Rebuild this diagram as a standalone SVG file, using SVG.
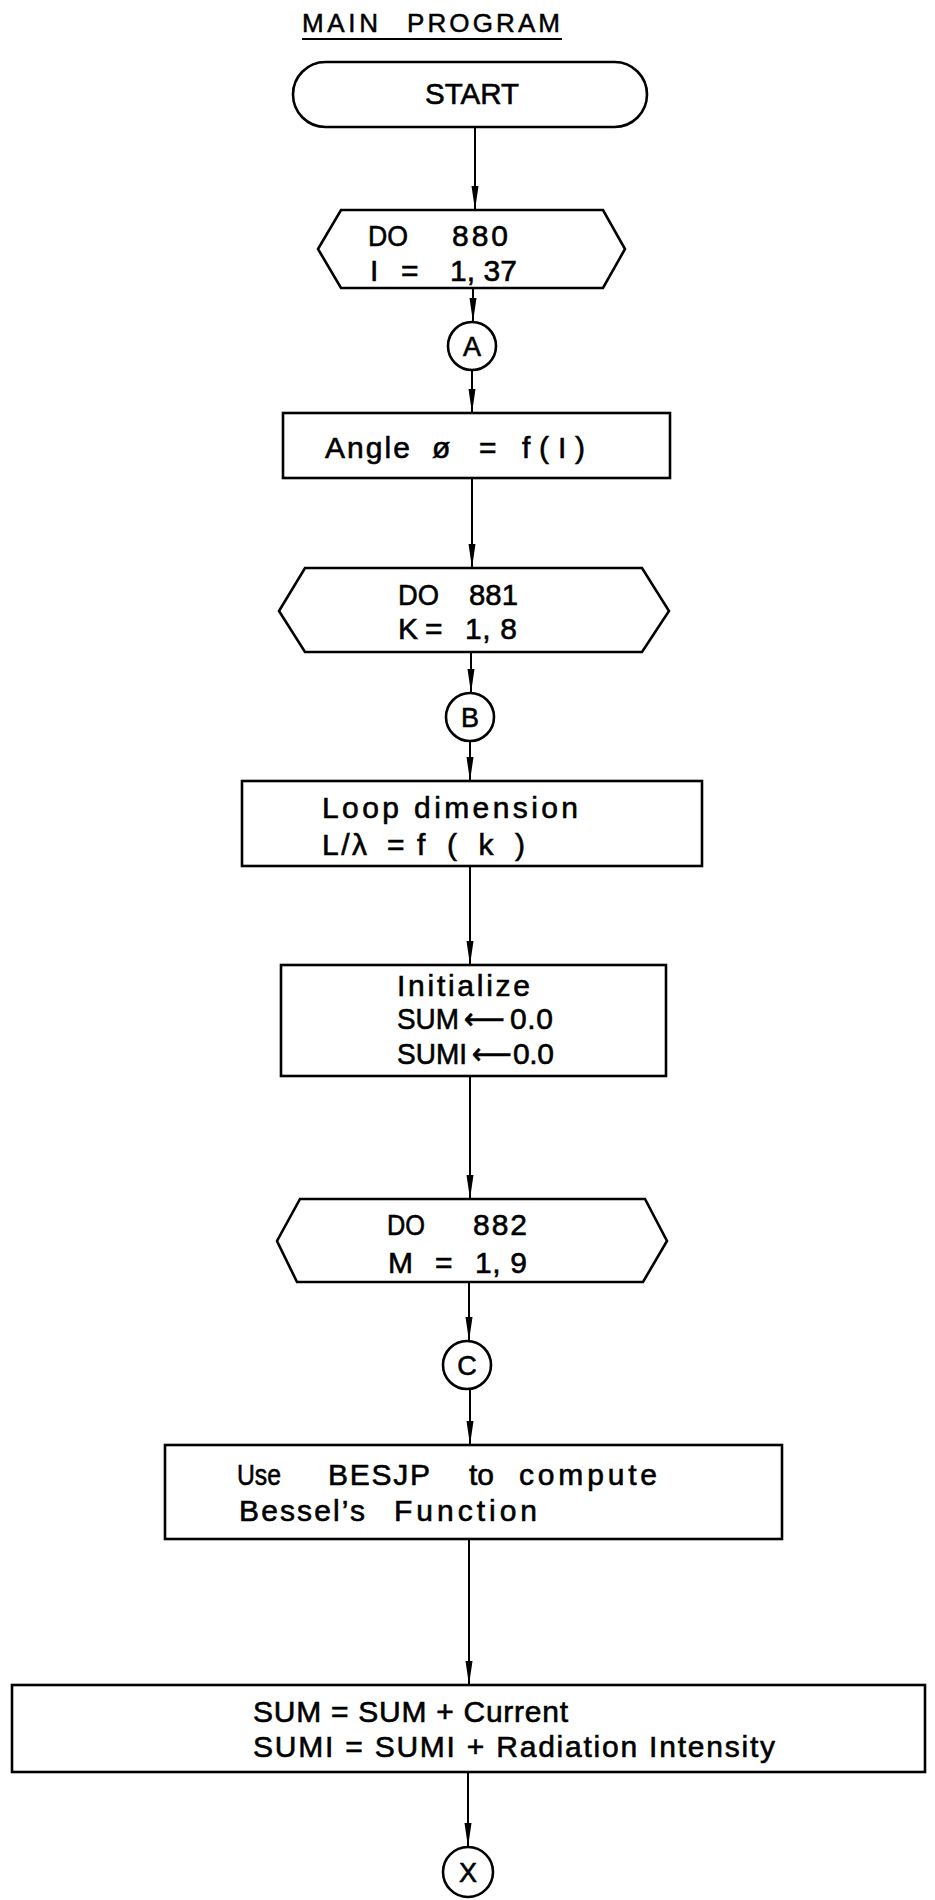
<svg xmlns="http://www.w3.org/2000/svg" width="935" height="1900" viewBox="0 0 935 1900">
<style>
.bg{fill:#ffffff}
.box{fill:none;stroke:#000;stroke-width:2.6}
.con{fill:none;stroke:#000;stroke-width:2}
.t{font-family:"Liberation Sans","DejaVu Sans",Arial,sans-serif;font-size:30px;fill:#000;stroke:#000;stroke-width:0.6}
.ts{font-family:"Liberation Sans","DejaVu Sans",Arial,sans-serif;font-size:26px;fill:#000;stroke:#000;stroke-width:0.5}
.tc{font-family:"Liberation Sans","DejaVu Sans",Arial,sans-serif;font-size:27px;fill:#000;stroke:#000;stroke-width:0.6;text-anchor:middle}
.ar{font-family:"DejaVu Sans","Liberation Sans",sans-serif;font-size:30px;fill:#000;stroke:#000;stroke-width:0.6}
</style>
<defs>
<marker id="ah" markerUnits="userSpaceOnUse" markerWidth="24" markerHeight="8" refX="24" refY="4" orient="auto">
<path d="M0,0.5 L24,4 L0,7.5 Z" fill="#000"/>
</marker>
</defs>
<rect class="bg" x="0" y="0" width="935" height="1900"/>

<g id="title">
<text class="ts" x="302" y="32" textLength="76" lengthAdjust="spacing">MAIN</text>
<text class="ts" x="407" y="32" textLength="153" lengthAdjust="spacing">PROGRAM</text>
<line x1="302" y1="39" x2="562" y2="39" stroke="#000" stroke-width="2"/>
</g>

<g id="start">
<rect class="box" x="293" y="62" width="354" height="65" rx="32.5"/>
<text class="t" x="425" y="104" textLength="94" lengthAdjust="spacingAndGlyphs">START</text>
</g>

<g id="do880">
<polygon class="box" points="341,210 603,210 625,249 603,288 341,288 318,249"/>
<text class="t" x="368" y="246" textLength="40" lengthAdjust="spacingAndGlyphs">DO</text>
<text class="t" x="452" y="246" textLength="56" lengthAdjust="spacing">880</text>
<text class="t" x="370" y="281">I</text>
<text class="t" x="401" y="281">=</text>
<text class="t" x="450" y="281" textLength="67" lengthAdjust="spacing">1, 37</text>
</g>

<g id="connA">
<circle class="box" cx="472" cy="346" r="24"/>
<text class="tc" x="472" y="356">A</text>
</g>

<g id="angle">
<rect class="box" x="283" y="413" width="387" height="65"/>
<text class="t" x="325" y="458" textLength="85" lengthAdjust="spacing">Angle</text>
<text class="t" x="432" y="458">ø</text>
<text class="t" x="479" y="458">=</text>
<text class="t" x="522" y="458" textLength="63" lengthAdjust="spacing">f(I)</text>
</g>

<g id="do881">
<polygon class="box" points="305,568 642,568 669,611 642,652 305,652 279,611"/>
<text class="t" x="398" y="605" textLength="41" lengthAdjust="spacingAndGlyphs">DO</text>
<text class="t" x="469" y="605" textLength="49" lengthAdjust="spacingAndGlyphs">881</text>
<text class="t" x="398" y="639">K</text>
<text class="t" x="425" y="639">=</text>
<text class="t" x="465" y="639" textLength="52" lengthAdjust="spacing">1, 8</text>
</g>

<g id="connB">
<circle class="box" cx="470" cy="717" r="24"/>
<text class="tc" x="470" y="727">B</text>
</g>

<g id="loopdim">
<rect class="box" x="242" y="781" width="460" height="85"/>
<text class="t" x="322" y="818" textLength="256" lengthAdjust="spacing">Loop dimension</text>
<text class="t" x="322" y="855" textLength="45" lengthAdjust="spacing">L/λ</text>
<text class="t" x="387" y="855">=</text>
<text class="t" x="417" y="855" textLength="108" lengthAdjust="spacing">f(k)</text>
</g>

<g id="init">
<rect class="box" x="281" y="965" width="385" height="111"/>
<text class="t" x="397" y="996" textLength="133" lengthAdjust="spacing">Initialize</text>
<text class="t" x="397" y="1029" textLength="62" lengthAdjust="spacingAndGlyphs">SUM</text>
<text class="ar" x="464" y="1029" textLength="41" lengthAdjust="spacingAndGlyphs">⟵</text>
<text class="t" x="510" y="1029" textLength="43" lengthAdjust="spacing">0.0</text>
<text class="t" x="397" y="1064" textLength="70" lengthAdjust="spacingAndGlyphs">SUMI</text>
<text class="ar" x="472" y="1064" textLength="40" lengthAdjust="spacingAndGlyphs">⟵</text>
<text class="t" x="513" y="1064" textLength="41" lengthAdjust="spacing">0.0</text>
</g>

<g id="do882">
<polygon class="box" points="300,1199 645,1199 667,1241 643,1282 297,1282 277,1241"/>
<text class="t" x="387" y="1235" textLength="38" lengthAdjust="spacingAndGlyphs">DO</text>
<text class="t" x="473" y="1235" textLength="54" lengthAdjust="spacing">882</text>
<text class="t" x="388" y="1273">M</text>
<text class="t" x="435" y="1273">=</text>
<text class="t" x="475" y="1273" textLength="52" lengthAdjust="spacing">1, 9</text>
</g>

<g id="connC">
<circle class="box" cx="467" cy="1365" r="24"/>
<text class="tc" x="467" y="1375">C</text>
</g>

<g id="besjp">
<rect class="box" x="165" y="1445" width="617" height="94"/>
<text class="t" x="237" y="1485" textLength="44" lengthAdjust="spacingAndGlyphs">Use</text>
<text class="t" x="328" y="1485" textLength="102" lengthAdjust="spacing">BESJP</text>
<text class="t" x="469" y="1485" textLength="25" lengthAdjust="spacingAndGlyphs">to</text>
<text class="t" x="519" y="1485" textLength="138" lengthAdjust="spacing">compute</text>
<text class="t" x="239" y="1521" textLength="126" lengthAdjust="spacing">Bessel’s</text>
<text class="t" x="394" y="1521" textLength="143" lengthAdjust="spacing">Function</text>
</g>

<g id="sums">
<rect class="box" x="12" y="1685" width="913" height="87"/>
<text class="t" x="253" y="1722" textLength="315" lengthAdjust="spacing">SUM = SUM + Current</text>
<text class="t" x="253" y="1757" textLength="522" lengthAdjust="spacing">SUMI = SUMI + Radiation Intensity</text>
</g>

<g id="connX">
<circle class="box" cx="468" cy="1872" r="25"/>
<text class="tc" x="468" y="1882">X</text>
</g>

<g id="connectors">
<line class="con" x1="475" y1="127" x2="475" y2="210" marker-end="url(#ah)"/>
<line class="con" x1="473" y1="288" x2="473" y2="322" marker-end="url(#ah)"/>
<line class="con" x1="472" y1="370" x2="472" y2="413" marker-end="url(#ah)"/>
<line class="con" x1="472" y1="478" x2="472" y2="568" marker-end="url(#ah)"/>
<line class="con" x1="471" y1="652" x2="471" y2="693" marker-end="url(#ah)"/>
<line class="con" x1="470" y1="741" x2="470" y2="781" marker-end="url(#ah)"/>
<line class="con" x1="470" y1="866" x2="470" y2="965" marker-end="url(#ah)"/>
<line class="con" x1="470" y1="1076" x2="470" y2="1199" marker-end="url(#ah)"/>
<line class="con" x1="469" y1="1282" x2="469" y2="1341" marker-end="url(#ah)"/>
<line class="con" x1="470" y1="1389" x2="470" y2="1445" marker-end="url(#ah)"/>
<line class="con" x1="469" y1="1539" x2="469" y2="1685" marker-end="url(#ah)"/>
<line class="con" x1="468" y1="1772" x2="468" y2="1847" marker-end="url(#ah)"/>
</g>
</svg>
